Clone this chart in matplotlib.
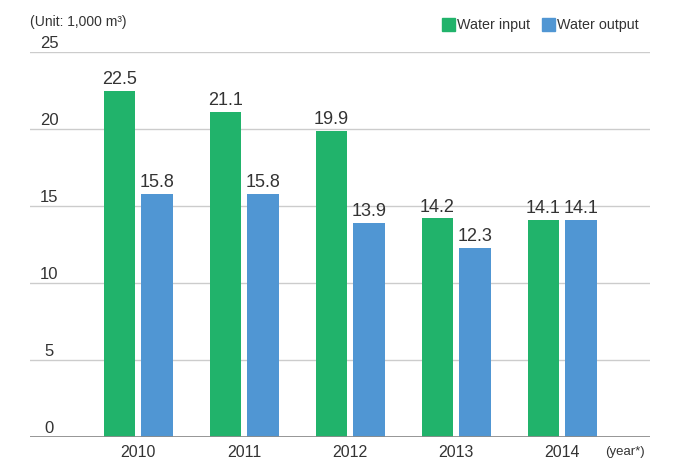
import matplotlib
matplotlib.use("Agg")
import matplotlib.pyplot as plt
import matplotlib.transforms as mtransforms
import numpy as np

years = ["2010", "2011", "2012", "2013", "2014"]
water_input = [22.5, 21.1, 19.9, 14.2, 14.1]
water_output = [15.8, 15.8, 13.9, 12.3, 14.1]
yticks = [0, 5, 10, 15, 20, 25]

plt.rcParams['font.family'] = ['Liberation Sans', 'DejaVu Sans']

green = '#21b36b'
blue = '#5096d3'
txt = '#333333'

fig = plt.figure(figsize=(6.73, 4.59), dpi=100)
ax = fig.add_axes([30/673, 1-437/459, 620/673, (437-52)/459])

x = np.arange(len(years))
w = 0.295
off = 0.178
b1 = ax.bar(x - off, water_input, width=w, color=green, zorder=3)
b2 = ax.bar(x + off, water_output, width=w, color=blue, zorder=3)

for bars, vals in ((b1, water_input), (b2, water_output)):
    for r, v in zip(bars, vals):
        ax.annotate(f"{v:.1f}", (r.get_x() + r.get_width()/2, v), xytext=(0, 2),
                    textcoords='offset points', ha='center', va='bottom',
                    fontsize=13, color=txt)

ax.set_xlim(-1.02, 4.83)
ax.set_ylim(0, 25)
for s in ax.spines.values():
    s.set_visible(False)
ax.set_yticks([])
for t in yticks:
    if t == 0:
        ax.axhline(0, color='#8c8c8c', lw=2, zorder=4)
    else:
        ax.axhline(t, color='#cccccc', lw=1, zorder=1)
trans = mtransforms.blended_transform_factory(ax.transAxes, ax.transData)
for t in yticks:
    ax.annotate(str(t), (0.031, t), xycoords=trans, xytext=(0, 0.5), textcoords='offset points',
                ha='center', va='bottom', fontsize=12, color=txt)

ax.set_xticks(x)
ax.set_xticklabels(years, fontsize=11.5, color=txt)
ax.tick_params(axis='x', length=0, pad=6)

fig.text(30/673, 1-22/459, "(Unit: 1,000 m³)", fontsize=10, color=txt, va='center', ha='left')
fig.text(605/673, 1-452/459, "(year*)", fontsize=9.5, color=txt, va='center', ha='left')

# legend
fig.patches.append(plt.Rectangle((442/673, 1-31/459), 13/673, 13/459, transform=fig.transFigure, color=green))
fig.text(457/673, 1-24.5/459, "Water input", fontsize=10.3, color=txt, va='center', ha='left')
fig.patches.append(plt.Rectangle((542/673, 1-31/459), 13/673, 13/459, transform=fig.transFigure, color=blue))
fig.text(557/673, 1-24.5/459, "Water output", fontsize=10.3, color=txt, va='center', ha='left')

fig.savefig("out.png", dpi=100)
